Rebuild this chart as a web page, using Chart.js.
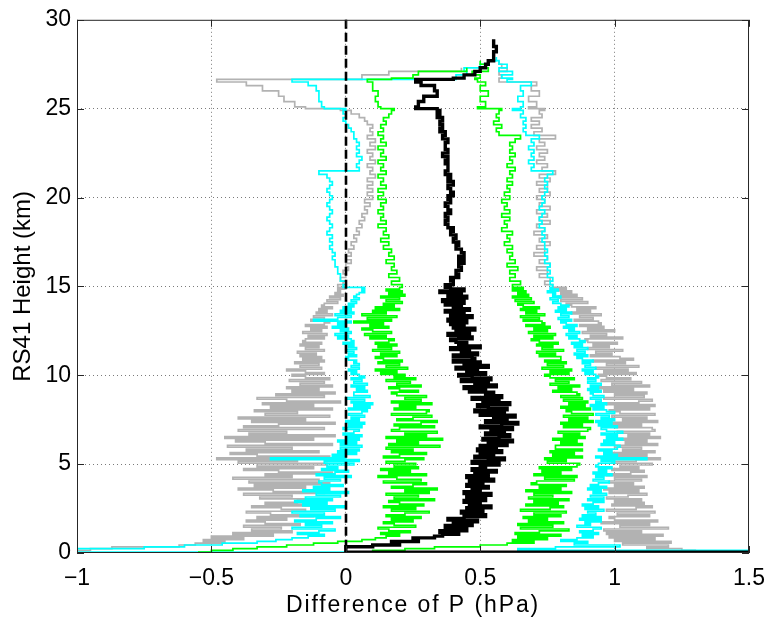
<!DOCTYPE html>
<html>
<head>
<meta charset="utf-8">
<script src="https://cdn.jsdelivr.net/npm/chart.js@4.4.1/dist/chart.umd.min.js"></script>
<style>
  html, body { margin: 0; padding: 0; background: #ffffff; }
  #wrap { width: 777px; height: 628px; }
</style>
</head>
<body>
<div id="wrap"><canvas id="chart" width="777" height="628"></canvas></div>
<script>
// Profile heights (km) shared by every curve
const heights = [
  0.05, 0.15, 0.25, 0.35, 0.45, 0.55, 0.65, 0.75, 0.85, 0.95,
  1.05, 1.15, 1.25, 1.35, 1.45, 1.55, 1.65, 1.75, 1.85, 1.95,
  2.05, 2.15, 2.25, 2.35, 2.45, 2.55, 2.65, 2.75, 2.85, 2.95,
  3.05, 3.15, 3.25, 3.35, 3.45, 3.55, 3.65, 3.75, 3.85, 3.95,
  4.05, 4.15, 4.25, 4.35, 4.45, 4.55, 4.65, 4.75, 4.85, 4.95,
  5.05, 5.15, 5.25, 5.35, 5.45, 5.55, 5.65, 5.75, 5.85, 5.95,
  6.05, 6.15, 6.25, 6.35, 6.45, 6.55, 6.65, 6.75, 6.85, 6.95,
  7.05, 7.15, 7.25, 7.35, 7.45, 7.55, 7.65, 7.75, 7.85, 7.95,
  8.05, 8.15, 8.25, 8.35, 8.45, 8.55, 8.65, 8.75, 8.85, 8.95,
  9.05, 9.15, 9.25, 9.35, 9.45, 9.55, 9.65, 9.75, 9.85, 9.95,
  10.05, 10.15, 10.25, 10.35, 10.45, 10.55, 10.65, 10.75, 10.85, 10.95,
  11.05, 11.15, 11.25, 11.35, 11.45, 11.55, 11.65, 11.75, 11.85, 11.95,
  12.05, 12.15, 12.25, 12.35, 12.45, 12.55, 12.65, 12.75, 12.85, 12.95,
  13.05, 13.15, 13.25, 13.35, 13.45, 13.55, 13.65, 13.75, 13.85, 13.95,
  14.05, 14.15, 14.25, 14.35, 14.45, 14.55, 14.65, 14.75, 14.85, 14.95,
  15.1, 15.3, 15.5, 15.7, 15.9, 16.1, 16.3, 16.5, 16.7, 16.9,
  17.1, 17.3, 17.5, 17.7, 17.9, 18.1, 18.3, 18.5, 18.7, 18.9,
  19.1, 19.3, 19.5, 19.7, 19.9, 20.1, 20.3, 20.5, 20.7, 20.9,
  21.1, 21.3, 21.5, 21.7, 21.9, 22.1, 22.3, 22.5, 22.7, 22.9,
  23.1, 23.3, 23.5, 23.7, 23.9, 24.1, 24.3, 24.5, 24.7, 24.9,
  25.0, 25.1, 25.4, 25.7, 26.0, 26.3, 26.5, 26.65, 26.72, 26.9,
  27.1, 27.3, 27.5, 27.7, 27.9, 28.2, 28.5, 28.9
];

// Mean pressure difference (hPa)
const meanDiff = [
  1.7, 0.0, 0.0, 0.0, 0.1, 0.2, 0.17, 0.27, 0.25, 0.33,
  0.36, 0.42, 0.35, 0.45, 0.39, 0.37, 0.47, 0.4, 0.49, 0.38,
  0.44, 0.52, 0.47, 0.43, 0.51, 0.45, 0.54, 0.46, 0.5, 0.44,
  0.52, 0.45, 0.48, 0.54, 0.44, 0.5, 0.47, 0.53, 0.45, 0.51,
  0.46, 0.55, 0.49, 0.45, 0.53, 0.48, 0.56, 0.47, 0.52, 0.5,
  0.57, 0.47, 0.53, 0.59, 0.48, 0.55, 0.5, 0.58, 0.49, 0.56,
  0.5, 0.6, 0.53, 0.62, 0.51, 0.57, 0.61, 0.52, 0.59, 0.54,
  0.62, 0.5, 0.58, 0.64, 0.52, 0.6, 0.55, 0.63, 0.5, 0.59,
  0.48, 0.6, 0.53, 0.49, 0.61, 0.51, 0.57, 0.47, 0.58, 0.52,
  0.55, 0.46, 0.52, 0.44, 0.56, 0.48, 0.53, 0.43, 0.54, 0.47,
  0.42, 0.52, 0.45, 0.49, 0.41, 0.53, 0.44, 0.5, 0.4, 0.48,
  0.47, 0.4, 0.49, 0.43, 0.46, 0.39, 0.5, 0.42, 0.45, 0.41,
  0.39, 0.47, 0.42, 0.38, 0.46, 0.41, 0.48, 0.4, 0.44, 0.39,
  0.45, 0.38, 0.43, 0.47, 0.39, 0.44, 0.37, 0.46, 0.4, 0.43,
  0.37, 0.44, 0.36, 0.42, 0.45, 0.38, 0.43, 0.35, 0.44, 0.39,
  0.37, 0.4, 0.39, 0.42, 0.41, 0.43, 0.42, 0.44, 0.42, 0.44,
  0.43, 0.41, 0.42, 0.4, 0.41, 0.39, 0.4, 0.38, 0.37, 0.38,
  0.37, 0.39, 0.38, 0.37, 0.39, 0.38, 0.4, 0.39, 0.38, 0.4,
  0.38, 0.39, 0.37, 0.38, 0.38, 0.37, 0.38, 0.36, 0.38, 0.37,
  0.37, 0.38, 0.36, 0.37, 0.35, 0.36, 0.35, 0.36, 0.34, 0.35,
  0.34, 0.26, 0.27, 0.29, 0.34, 0.33, 0.28, 0.26, 0.4, 0.44,
  0.48, 0.5, 0.52, 0.53, 0.55, 0.55, 0.56, 0.55
];

// Inner envelope (green), low and high side
const innerLow = [
  -0.55, -0.5, -0.42, -0.33, -0.22, -0.12, -0.03, 0.06, 0.11, 0.15,
  0.2, 0.13, 0.24, 0.16, 0.12, 0.26, 0.18, 0.14, 0.25, 0.17,
  0.28, 0.15, 0.22, 0.31, 0.17, 0.26, 0.14, 0.29, 0.2, 0.16,
  0.33, 0.18, 0.27, 0.15, 0.31, 0.22, 0.34, 0.17, 0.25, 0.3,
  0.14, 0.28, 0.19, 0.12, 0.3, 0.16, 0.24, 0.13, 0.27, 0.18,
  0.26, 0.15, 0.22, 0.29, 0.14, 0.2, 0.3, 0.17, 0.25, 0.15,
  0.35, 0.16, 0.27, 0.19, 0.36, 0.15, 0.3, 0.22, 0.34, 0.17,
  0.2, 0.33, 0.18, 0.28, 0.34, 0.19, 0.25, 0.32, 0.17, 0.3,
  0.31, 0.18, 0.26, 0.2, 0.32, 0.17, 0.28, 0.22, 0.3, 0.19,
  0.17, 0.27, 0.2, 0.16, 0.28, 0.19, 0.24, 0.15, 0.26, 0.18,
  0.22, 0.13, 0.19, 0.11, 0.23, 0.15, 0.2, 0.12, 0.21, 0.14,
  0.11, 0.19, 0.13, 0.2, 0.1, 0.17, 0.12, 0.19, 0.11, 0.16,
  0.18, 0.09, 0.15, 0.07, 0.17, 0.1, 0.06, 0.16, 0.09, 0.14,
  0.03, 0.17, 0.08, 0.19, 0.06, 0.15, 0.1, 0.2, 0.11, 0.18,
  0.14, 0.21, 0.15, 0.2, 0.13, 0.22, 0.16, 0.21, 0.15, 0.2,
  0.21, 0.17, 0.2, 0.16, 0.19, 0.17, 0.18, 0.15, 0.18, 0.16,
  0.17, 0.14, 0.16, 0.13, 0.16, 0.14, 0.15, 0.12, 0.15, 0.13,
  0.14, 0.12, 0.14, 0.13, 0.15, 0.12, 0.14, 0.12, 0.15, 0.13,
  0.14, 0.12, 0.15, 0.13, 0.14, 0.12, 0.15, 0.13, 0.14, 0.12,
  0.15, 0.13, 0.14, 0.12, 0.14, 0.13, 0.15, 0.14, 0.16, 0.17,
  0.18, 0.13, 0.12, 0.11, 0.12, 0.1, 0.1, 0.08, 0.17, 0.25,
  0.27, 0.45, null, null, null, null, null, null
];
const innerHigh = [
  0.02, 0.1, 0.22, 0.33, 0.5, 0.6, 0.7, 0.62, 0.75, 0.64,
  0.8, 0.63, 0.72, 0.83, 0.65, 0.77, 0.64, 0.81, 0.68, 0.75,
  0.66, 0.8, 0.7, 0.82, 0.65, 0.76, 0.81, 0.67, 0.79, 0.7,
  0.83, 0.68, 0.77, 0.7, 0.84, 0.67, 0.8, 0.72, 0.82, 0.69,
  0.71, 0.85, 0.74, 0.86, 0.7, 0.8, 0.73, 0.84, 0.72, 0.86,
  0.87, 0.75, 0.82, 0.74, 0.88, 0.77, 0.85, 0.76, 0.88, 0.78,
  0.78, 0.88, 0.8, 0.86, 0.77, 0.89, 0.81, 0.87, 0.79, 0.9,
  0.91, 0.81, 0.88, 0.8, 0.92, 0.83, 0.9, 0.81, 0.92, 0.84,
  0.82, 0.91, 0.8, 0.89, 0.83, 0.9, 0.81, 0.88, 0.8, 0.87,
  0.86, 0.77, 0.84, 0.79, 0.87, 0.76, 0.83, 0.78, 0.85, 0.76,
  0.74, 0.83, 0.76, 0.84, 0.73, 0.81, 0.75, 0.82, 0.74, 0.8,
  0.8, 0.72, 0.78, 0.71, 0.81, 0.73, 0.77, 0.71, 0.79, 0.72,
  0.69, 0.77, 0.7, 0.78, 0.68, 0.75, 0.7, 0.76, 0.67, 0.74,
  0.73, 0.66, 0.72, 0.65, 0.74, 0.67, 0.71, 0.65, 0.72, 0.66,
  0.64, 0.7, 0.63, 0.69, 0.62, 0.68, 0.64, 0.67, 0.62, 0.66,
  0.62, 0.65, 0.61, 0.63, 0.61, 0.64, 0.6, 0.63, 0.61, 0.62,
  0.6, 0.62, 0.59, 0.61, 0.6, 0.62, 0.58, 0.6, 0.59, 0.61,
  0.58, 0.61, 0.59, 0.6, 0.58, 0.61, 0.59, 0.61, 0.6, 0.62,
  0.6, 0.62, 0.61, 0.63, 0.6, 0.62, 0.61, 0.63, 0.61, 0.62,
  0.61, 0.63, 0.65, 0.57, 0.56, 0.58, 0.55, 0.57, 0.56, 0.57,
  0.58, 0.49, 0.52, 0.5, 0.53, 0.5, 0.52, 0.49, 0.48, 0.5,
  0.47, 0.53, 0.52, 0.5, null, null, null, null
];

// Middle envelope (cyan), low and high side
const midLow = [
  0.47, -1.3, -1.0, -0.75, -0.6, -0.46, -0.33, -0.26, -0.2, -0.14,
  -0.08, -0.18, -0.1, -0.04, -0.2, -0.09, -0.15, -0.05, -0.19, -0.11,
  -0.02, -0.17, -0.08, -0.2, -0.04, -0.13, 0.0, -0.16, -0.07, -0.19,
  -0.05, -0.15, -0.02, -0.11, 0.01, -0.16, -0.06, -0.12, -0.01, -0.09,
  -0.1, -0.02, -0.08, 0.02, -0.11, -0.04, 0.01, -0.09, -0.03, -0.07,
  0.03, -0.08, 0.05, -0.28, 0.0, -0.05, 0.04, -0.03, 0.05, -0.02,
  0.06, -0.02, 0.04, -0.03, 0.05, 0.0, 0.06, -0.01, 0.03, 0.05,
  -0.01, 0.06, 0.01, 0.07, 0.0, 0.05, 0.02, 0.07, 0.01, 0.06,
  0.08, 0.01, 0.09, 0.03, 0.1, 0.02, 0.07, 0.0, 0.09, 0.03,
  0.03, 0.08, 0.04, 0.07, 0.02, 0.08, 0.03, 0.06, 0.02, 0.07,
  0.05, 0.02, 0.04, 0.01, 0.05, 0.02, 0.05, 0.03, 0.04, 0.01,
  0.0, 0.04, 0.01, 0.03, 0.0, 0.04, 0.01, 0.03, -0.01, 0.03,
  0.02, -0.03, 0.01, -0.04, 0.02, -0.02, 0.01, -0.05, 0.0, -0.03,
  0.02, -0.12, -0.03, 0.02, -0.04, 0.03, -0.02, 0.02, -0.01, 0.03,
  0.01, 0.04, 0.02, 0.05, 0.03, 0.04, 0.05, 0.07, 0.06, 0.07,
  -0.01, 0.0, -0.02, -0.02, -0.03, -0.03, -0.04, -0.04, -0.05, -0.04,
  -0.05, -0.06, -0.05, -0.06, -0.05, -0.07, -0.06, -0.05, -0.06, -0.07,
  -0.06, -0.05, -0.06, -0.07, -0.06, -0.05, -0.06, -0.07, -0.06, -0.05,
  -0.06, -0.07, -0.1, 0.05, 0.04, 0.05, 0.06, 0.04, 0.05, 0.04,
  0.05, 0.04, 0.03, 0.03, 0.02, 0.01, 0.0, -0.01, 0.0, -0.01,
  0.0, -0.08, -0.09, -0.1, -0.1, -0.11, -0.14, -0.2, 0.41, 0.41,
  0.45, 0.44, 0.5, 0.53, 0.56, null, null, null
];
const midHigh = [
  1.7, 1.7, 0.64, 0.78, 1.02, 0.85, 0.9, 0.8, 0.86, 0.92,
  0.88, 0.94, 0.87, 0.92, 0.95, 0.86, 0.91, 0.89, 0.95, 0.87,
  0.95, 0.88, 0.93, 0.9, 0.96, 0.89, 0.94, 0.88, 0.92, 0.96,
  0.9, 0.96, 0.91, 0.97, 0.92, 0.95, 0.9, 0.97, 0.91, 0.94,
  0.98, 0.92, 0.96, 0.93, 0.99, 0.92, 0.97, 0.94, 0.99, 0.93,
  0.94, 1.0, 0.95, 1.12, 0.93, 1.01, 0.96, 0.99, 0.94, 1.01,
  1.02, 0.95, 1.0, 0.96, 1.03, 0.97, 1.01, 0.95, 1.03, 0.97,
  0.95, 1.01, 0.94, 0.99, 0.93, 1.0, 0.95, 0.98, 0.93, 1.0,
  0.97, 0.92, 0.96, 0.91, 0.97, 0.93, 0.95, 0.91, 0.96, 0.92,
  0.91, 0.95, 0.9, 0.94, 0.91, 0.95, 0.9, 0.93, 0.9, 0.94,
  0.93, 0.89, 0.92, 0.88, 0.93, 0.89, 0.91, 0.88, 0.92, 0.88,
  0.86, 0.9, 0.85, 0.89, 0.86, 0.9, 0.85, 0.88, 0.84, 0.89,
  0.87, 0.83, 0.86, 0.82, 0.87, 0.83, 0.85, 0.81, 0.86, 0.82,
  0.8, 0.84, 0.79, 0.83, 0.8, 0.84, 0.78, 0.82, 0.79, 0.83,
  0.8, 0.77, 0.79, 0.76, 0.8, 0.77, 0.78, 0.75, 0.79, 0.76,
  0.77, 0.76, 0.77, 0.75, 0.76, 0.75, 0.76, 0.74, 0.75, 0.74,
  0.75, 0.74, 0.74, 0.73, 0.74, 0.73, 0.74, 0.72, 0.73, 0.72,
  0.73, 0.74, 0.72, 0.73, 0.74, 0.73, 0.74, 0.75, 0.74, 0.75,
  0.74, 0.75, 0.77, 0.69, 0.7, 0.68, 0.7, 0.69, 0.7, 0.68,
  0.7, 0.69, 0.72, 0.67, 0.66, 0.67, 0.66, 0.67, 0.65, 0.66,
  0.62, 0.65, 0.66, 0.64, 0.66, 0.65, 0.69, 0.6, 0.62, 0.58,
  0.62, 0.57, 0.6, 0.57, 0.55, null, null, null
];

// Outer envelope (grey), low and high side
const outerLow = [
  -1.2, -1.1, -0.95, -0.87, -0.62, -0.56, -0.45, -0.53, -0.38, -0.5,
  -0.27, -0.42, -0.2, -0.35, -0.24, -0.38, -0.17, -0.3, -0.37, -0.22,
  -0.33, -0.12, -0.28, -0.37, -0.15, -0.24, -0.35, -0.1, -0.3, -0.18,
  -0.12, -0.32, -0.2, -0.38, -0.08, -0.27, -0.4, -0.15, -0.34, -0.06,
  -0.36, -0.1, -0.42, -0.2, -0.3, -0.05, -0.25, -0.38, -0.12, -0.33,
  -0.07, -0.4, -0.18, -0.48, -0.06, -0.33, -0.43, -0.1, -0.37, -0.2,
  -0.44, -0.05, -0.3, -0.41, -0.12, -0.45, -0.04, -0.36, -0.22, -0.4,
  -0.08, -0.38, -0.25, -0.04, -0.35, -0.15, -0.4, -0.06, -0.3, -0.18,
  -0.34, -0.05, -0.28, -0.12, -0.31, -0.02, -0.22, -0.33, -0.08, -0.26,
  -0.04, -0.2, -0.1, -0.22, -0.05, -0.17, -0.08, -0.21, -0.06, -0.15,
  -0.2, -0.08, -0.15, -0.22, -0.09, -0.17, -0.1, -0.19, -0.08, -0.16,
  -0.09, -0.17, -0.11, -0.18, -0.08, -0.15, -0.1, -0.17, -0.09, -0.16,
  -0.15, -0.08, -0.14, -0.07, -0.16, -0.09, -0.13, -0.07, -0.15, -0.08,
  -0.06, -0.13, -0.08, -0.12, -0.05, -0.11, -0.07, -0.1, -0.05, -0.09,
  -0.08, -0.03, -0.07, -0.02, -0.06, -0.01, -0.04, -0.02, -0.03, 0.0,
  -0.03, -0.01, -0.02, 0.0, -0.01, 0.01, 0.0, 0.02, 0.0, 0.02,
  0.01, 0.03, 0.02, 0.04, 0.03, 0.05, 0.04, 0.06, 0.05, 0.07,
  0.06, 0.08, 0.07, 0.09, 0.07, 0.1, 0.08, 0.1, 0.08, 0.1,
  0.08, 0.11, 0.09, 0.1, 0.08, 0.11, 0.09, 0.1, 0.08, 0.11,
  0.09, 0.11, 0.08, 0.1, 0.09, 0.1, 0.08, 0.07, 0.05, 0.02,
  -0.02, -0.15, -0.19, -0.23, -0.25, -0.31, -0.37, -0.48, 0.06, 0.06,
  0.16, 0.43, null, null, null, null, null, null
];
const outerHigh = [
  1.6, 1.3, 1.25, 1.12, 1.2, 1.03, 1.21, 1.0, 1.15, 0.98,
  1.18, 0.97, 1.1, 0.96, 1.2, 1.02, 1.13, 0.95, 1.16, 1.0,
  0.98, 1.13, 1.01, 1.15, 0.97, 1.08, 1.14, 0.99, 1.11, 1.0,
  1.1, 0.97, 1.05, 1.12, 0.98, 1.09, 0.96, 1.11, 1.0, 1.07,
  0.98, 1.1, 1.0, 1.12, 0.97, 1.06, 1.11, 0.99, 1.09, 1.02,
  1.14, 0.99, 1.08, 1.17, 1.0, 1.12, 0.98, 1.15, 1.03, 1.1,
  1.0, 1.16, 1.04, 1.12, 1.0, 1.17, 1.05, 1.13, 1.01, 1.15,
  1.14, 1.0, 1.1, 0.98, 1.16, 1.03, 1.12, 0.99, 1.15, 1.02,
  0.98, 1.13, 1.0, 1.15, 0.97, 1.09, 1.14, 0.96, 1.11, 1.0,
  1.12, 0.96, 1.07, 0.94, 1.13, 0.99, 1.1, 0.95, 1.06, 0.97,
  0.94, 1.08, 0.96, 1.05, 0.93, 1.09, 0.97, 1.04, 0.92, 1.07,
  1.02, 0.91, 0.99, 0.93, 1.03, 0.9, 0.98, 0.92, 1.01, 0.9,
  0.89, 1.03, 0.91, 0.97, 0.88, 1.0, 0.9, 0.96, 0.87, 0.95,
  0.94, 0.85, 0.92, 0.87, 0.95, 0.84, 0.91, 0.86, 0.93, 0.84,
  0.82, 0.9, 0.8, 0.88, 0.79, 0.86, 0.8, 0.84, 0.77, 0.82,
  0.77, 0.74, 0.76, 0.72, 0.75, 0.71, 0.76, 0.72, 0.75, 0.7,
  0.74, 0.71, 0.76, 0.72, 0.75, 0.7, 0.74, 0.71, 0.76, 0.72,
  0.75, 0.71, 0.76, 0.72, 0.74, 0.71, 0.76, 0.72, 0.75, 0.71,
  0.76, 0.72, 0.78, 0.73, 0.75, 0.71, 0.74, 0.72, 0.75, 0.71,
  0.74, 0.72, 0.78, 0.7, 0.73, 0.69, 0.72, 0.69, 0.73, 0.72,
  0.74, 0.68, 0.71, 0.68, 0.72, 0.69, 0.71, 0.57, 0.57, 0.58,
  0.57, 0.6, 0.58, 0.57, null, null, null, null
];

// Axis ticks and labels
const xTickValues = [-1, -0.5, 0, 0.5, 1, 1.5];
const xTickLabels = ['\u22121', '\u22120.5', '0', '0.5', '1', '1.5'];
const yTickValues = [0, 5, 10, 15, 20, 25, 30];
const yTickLabels = ['0', '5', '10', '15', '20', '25', '30'];
const xTitle = 'Difference of P (hPa)';
const yTitle = 'RS41 Height (km)';

const FONT = "'Liberation Sans', Arial, Helvetica, sans-serif";

function profile(values) {
  const pts = [];
  values.forEach((v, i) => { if (v !== null) pts.push({ x: v, y: heights[i] }); });
  return pts;
}

function series(values, color, width) {
  return {
    data: profile(values),
    showLine: true,
    borderColor: color,
    backgroundColor: color,
    borderWidth: width,
    pointRadius: 0,
    stepped: 'before',
    fill: false
  };
}

// Frame, inward tick marks, zero reference line and axis titles
const framePlugin = {
  id: 'frame',
  afterDatasetsDraw(chart) {
    const { ctx, chartArea: a, scales } = chart;
    const xs = scales.x, ys = scales.y;
    ctx.save();

    // dashed zero line
    const x0 = Math.round(xs.getPixelForValue(0));
    ctx.beginPath();
    ctx.setLineDash([9, 4]);
    ctx.lineWidth = 2.6;
    ctx.strokeStyle = '#000000';
    ctx.moveTo(x0, a.top);
    ctx.lineTo(x0, a.bottom);
    ctx.stroke();
    ctx.setLineDash([]);

    // box
    ctx.lineWidth = 1;
    ctx.strokeStyle = '#262626';
    ctx.strokeRect(a.left + 0.5, a.top + 0.5, a.right - a.left - 1, a.bottom - a.top - 1);

    // inward ticks
    const tl = 7;
    ctx.beginPath();
    xTickValues.forEach(v => {
      const px = Math.round(xs.getPixelForValue(v)) + 0.5;
      ctx.moveTo(px, a.bottom); ctx.lineTo(px, a.bottom - tl);
      ctx.moveTo(px, a.top); ctx.lineTo(px, a.top + tl);
    });
    yTickValues.forEach(v => {
      const py = Math.round(ys.getPixelForValue(v)) + 0.5;
      ctx.moveTo(a.left, py); ctx.lineTo(a.left + tl, py);
      ctx.moveTo(a.right, py); ctx.lineTo(a.right - tl, py);
    });
    ctx.stroke();

    // axis titles
    ctx.fillStyle = '#000000';
    ctx.textAlign = 'center';
    ctx.textBaseline = 'middle';
    ctx.font = '23px ' + FONT;
    if ('letterSpacing' in ctx) ctx.letterSpacing = '1.9px';
    ctx.fillText(xTitle, (a.left + a.right) / 2, 606);
    if ('letterSpacing' in ctx) ctx.letterSpacing = '0px';
    ctx.translate(23, (a.top + a.bottom) / 2);
    ctx.rotate(-Math.PI / 2);
    ctx.font = '24px ' + FONT;
    ctx.fillText(yTitle, 0, 0);
    ctx.restore();
  }
};

const gridColor = ctx => (ctx.index === 0 || ctx.index === ctx.chart.scales[ctx.scale.id].ticks.length - 1)
  ? 'rgba(0,0,0,0)' : '#7a7a7a';

new Chart(document.getElementById('chart'), {
  type: 'scatter',
  data: {
    datasets: [
      series(meanDiff, '#000000', 3.4),
      series(innerLow, '#00ff00', 1.7),
      series(innerHigh, '#00ff00', 1.7),
      series(midLow, '#00ffff', 1.7),
      series(midHigh, '#00ffff', 1.7),
      series(outerLow, '#b2b2b2', 1.7),
      series(outerHigh, '#b2b2b2', 1.7)
    ]
  },
  options: {
    responsive: false,
    animation: false,
    devicePixelRatio: 1,
    layout: { padding: { left: 0, top: 18, right: 21, bottom: 0 } },
    plugins: { legend: { display: false }, tooltip: { enabled: false } },
    scales: {
      x: {
        type: 'linear',
        min: -1, max: 1.5,
        afterFit(s) { s.height = 75; },
        afterBuildTicks(s) { s.ticks = xTickValues.map(v => ({ value: v })); },
        ticks: {
          callback: (v, i) => xTickLabels[i],
          font: { family: FONT, size: 23 },
          color: '#000000',
          padding: 12,
          maxRotation: 0,
          autoSkip: false
        },
        grid: { drawTicks: false, color: gridColor, lineWidth: 1 },
        border: { display: false, dash: [1, 3] }
      },
      y: {
        type: 'linear',
        min: 0, max: 30,
        afterFit(s) { s.width = 77; },
        afterBuildTicks(s) { s.ticks = yTickValues.map(v => ({ value: v })); },
        ticks: {
          callback: (v, i) => yTickLabels[i],
          font: { family: FONT, size: 23 },
          color: '#000000',
          padding: 6,
          autoSkip: false
        },
        grid: { drawTicks: false, color: gridColor, lineWidth: 1 },
        border: { display: false, dash: [1, 3] }
      }
    }
  },
  plugins: [framePlugin]
});
</script>
</body>
</html>
